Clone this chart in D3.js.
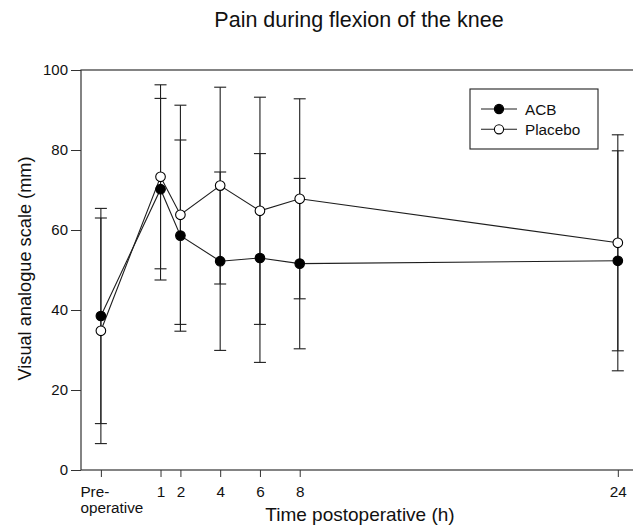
<!DOCTYPE html>
<html>
<head>
<meta charset="utf-8">
<script src="https://cdn.jsdelivr.net/npm/d3@7"></script>
<style>
  body { margin: 0; background: #fff; }
  svg { display: block; font-family: Arial, "Liberation Sans", sans-serif; }
</style>
</head>
<body>
<svg id="chart" width="633" height="526"></svg>
<script>
// ---- data ----
const times = [-2, 1, 2, 4, 6, 8, 24];           // -2 = pre-operative
const tickLabels = ["Pre-operative", "1", "2", "4", "6", "8", "24"];
const yTicks = [0, 20, 40, 60, 80, 100];
const acbMean = [38.5, 70.2, 58.6, 52.2, 53.0, 51.6, 52.3];
const acbSD   = [26.9, 22.7, 23.9, 22.3, 26.1, 21.3, 27.5];
const placeboMean = [34.8, 73.3, 63.8, 71.1, 64.8, 67.8, 56.8];
const placeboSD   = [28.2, 23.0, 27.4, 24.6, 28.4, 25.0, 27.0];
const seriesNames = ["ACB", "Placebo"];

const svg = d3.select("#chart");
const L = 81, T = 70, B = 470, R = 637.7;
const x = d3.scaleLinear().domain([-3, 25]).range([L, R]);
const y = d3.scaleLinear().domain([0, 100]).range([B, T]);
const ink = "#1e1e1e";

// frame
svg.append("rect").attr("x", L).attr("y", T).attr("width", R - L).attr("height", B - T)
  .attr("fill", "none").attr("stroke", "#333").attr("stroke-width", 1.2);

// y axis
const yAxis = svg.append("g").attr("transform", `translate(${L},0)`)
  .call(d3.axisLeft(y).tickValues(yTicks).tickSize(10).tickPadding(3));
yAxis.select(".domain").remove();
yAxis.selectAll("line").attr("stroke", "#333");
yAxis.selectAll("text").attr("font-size", 15).attr("fill", "#111")
  .attr("font-family", 'Arial, "Liberation Sans", sans-serif');

// x axis
const xAxis = svg.append("g").attr("transform", `translate(0,${B})`)
  .call(d3.axisBottom(x).tickValues(times).tickSize(7).tickFormat(""));
xAxis.select(".domain").remove();
xAxis.selectAll("line").attr("stroke", "#333");
xAxis.selectAll(".tick").each(function(d, i) {
  const g = d3.select(this);
  const lab = tickLabels[i];
  if (lab === "Pre-operative") {
    const t = g.append("text").attr("fill", "#111").attr("font-size", 15.3)
      .attr("text-anchor", "start").attr("x", -21);
    t.append("tspan").attr("x", -21).attr("y", 26.5).text("Pre-");
    t.append("tspan").attr("x", -21).attr("y", 43).text("operative");
  } else {
    g.append("text").attr("fill", "#111").attr("font-size", 15.3)
      .attr("text-anchor", "middle").attr("y", 26.5).text(lab);
  }
});

// titles
svg.append("text").attr("x", 359).attr("y", 26.5).attr("text-anchor", "middle")
  .attr("font-size", 21.5).attr("fill", "#111").text("Pain during flexion of the knee");
svg.append("text").attr("x", 360).attr("y", 521).attr("text-anchor", "middle")
  .attr("font-size", 19).attr("fill", "#111").text("Time postoperative (h)");
svg.append("text").attr("transform", "translate(31,268.5) rotate(-90)").attr("text-anchor", "middle")
  .attr("font-size", 18.2).attr("fill", "#111").text("Visual analogue scale (mm)");

const series = [
  { name: seriesNames[0], mean: acbMean, sd: acbSD, fill: "#000" },
  { name: seriesNames[1], mean: placeboMean, sd: placeboSD, fill: "#fff" }
];

// error bars
const cap = 6;
series.forEach(s => {
  const g = svg.append("g").attr("stroke", ink).attr("stroke-width", 1.1);
  times.forEach((t, i) => {
    const lo = s.mean[i] - s.sd[i], hi = s.mean[i] + s.sd[i];
    g.append("line").attr("x1", x(t)).attr("x2", x(t)).attr("y1", y(lo)).attr("y2", y(hi));
    g.append("line").attr("x1", x(t) - cap).attr("x2", x(t) + cap).attr("y1", y(lo)).attr("y2", y(lo));
    g.append("line").attr("x1", x(t) - cap).attr("x2", x(t) + cap).attr("y1", y(hi)).attr("y2", y(hi));
  });
});

// lines
const line = d3.line().x(d => x(d[0])).y(d => y(d[1]));
series.forEach(s => {
  svg.append("path").datum(times.map((t, i) => [t, s.mean[i]]))
    .attr("d", line).attr("fill", "none").attr("stroke", ink).attr("stroke-width", 1.1);
});
// markers
series.forEach(s => {
  svg.append("g").selectAll("circle").data(times.map((t, i) => [t, s.mean[i]])).join("circle")
    .attr("cx", d => x(d[0])).attr("cy", d => y(d[1])).attr("r", 4.8)
    .attr("fill", s.fill).attr("stroke", "#000").attr("stroke-width", 1.1);
});

// legend
const lg = svg.append("g");
lg.append("rect").attr("x", 470).attr("y", 89).attr("width", 128).attr("height", 60)
  .attr("fill", "#fff").attr("stroke", "#222").attr("stroke-width", 1.1);
series.forEach((s, i) => {
  const yy = 109 + i * 20.3;
  lg.append("line").attr("x1", 481).attr("x2", 517).attr("y1", yy).attr("y2", yy)
    .attr("stroke", ink).attr("stroke-width", 1.1);
  lg.append("circle").attr("cx", 499).attr("cy", yy).attr("r", 4.6)
    .attr("fill", s.fill).attr("stroke", "#000").attr("stroke-width", 1.1);
  lg.append("text").attr("x", 525).attr("y", yy + 5.5).attr("font-size", 15.3)
    .attr("fill", "#111").text(s.name);
});
</script>
</body>
</html>
